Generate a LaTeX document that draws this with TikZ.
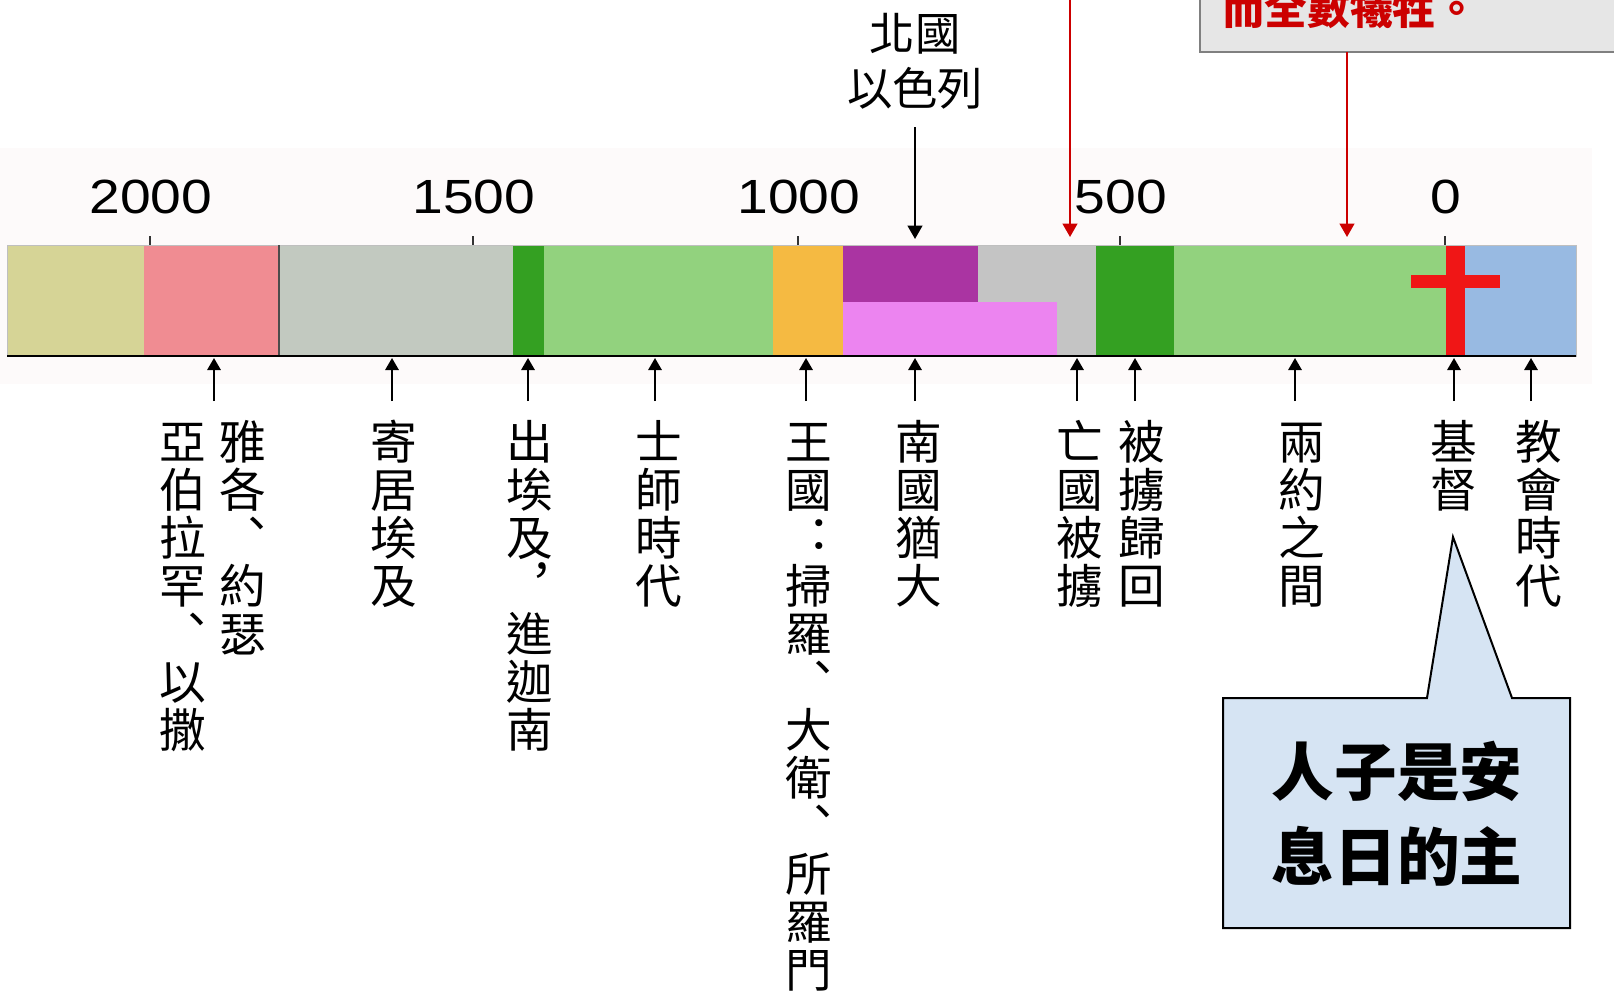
\documentclass[tikz,border=0pt]{standalone}
\usepackage{fontspec}
\usepackage{graphicx}
\usetikzlibrary{arrows.meta}
\newfontfamily\cjk{Noto Sans CJK TC}
\newfontfamily\numfont{Liberation Sans}
\definecolor{cOlive}{RGB}{214,212,150}
\definecolor{cPink}{RGB}{240,140,146}
\definecolor{cGrayA}{RGB}{194,201,192}
\definecolor{cDkGreen}{RGB}{52,160,34}
\definecolor{cLtGreen}{RGB}{146,210,126}
\definecolor{cOrange}{RGB}{245,186,66}
\definecolor{cPurple}{RGB}{170,52,162}
\definecolor{cViolet}{RGB}{236,132,240}
\definecolor{cGrayB}{RGB}{196,196,196}
\definecolor{cRed}{RGB}{240,22,22}
\definecolor{cBlue}{RGB}{152,186,226}
\definecolor{cDarkRed}{RGB}{204,0,0}
\definecolor{cBoxGray}{RGB}{230,230,230}
\definecolor{cBoxEdge}{RGB}{128,128,128}
\definecolor{cCallout}{RGB}{214,228,243}
\definecolor{cBand}{RGB}{253,250,250}
\tikzset{
  vch/.style={font=\cjk\fontsize{35}{40}\selectfont, inner sep=0pt, text height=0.88em, text depth=0.12em, anchor=center},
  yearlab/.style={font=\numfont\fontsize{36}{40}\selectfont, inner sep=0pt, anchor=center},
  tickmark/.style={line width=0.9pt, black!80},
  uparrow/.style={line width=1.5pt, -{Triangle[length=9pt,width=10pt]}},
  downarrow/.style={line width=1.5pt, -{Triangle[length=10pt,width=11pt]}},
  redarrow/.style={line width=1.5pt, cDarkRed, -{Triangle[length=10pt,width=11pt]}},
}
\newcommand\vlabel[4]{%
  \foreach \ch [count=\i] in {#4}{\node[vch] (#1-\i) at (#2,{#3+48*(\i-1)}) {\ch};}}
\begin{document}
\begin{tikzpicture}[x=0.75pt,y=-0.75pt]
\useasboundingbox (0,0) rectangle (1614,996);
\clip (0,0) rectangle (1614,996);
\fill[white] (0,0) rectangle (1614,996);
% faint band behind the bar
\fill[cBand] (0,148) rectangle (1592,384);
% top right box
\fill[cBoxGray] (1200,-10) rectangle (1625,52);
\draw[cBoxEdge, line width=1.5pt] (1625,52) -- (1200,52) -- (1200,-10);
\node[font=\cjk\bfseries\fontsize{32}{36}\selectfont, text=cDarkRed, inner sep=0pt, text height=0.88em, text depth=0.12em, anchor=west] (redtxt) at (1222,19) {而全數犧牲。};
\coordinate (boxbot) at (1347,52);
% bar segments
\fill[cOlive] (7,245) rectangle (144,356);
\fill[cPink] (144,245) rectangle (279,356);
\fill[cGrayA] (279,245) rectangle (513,356);
\fill[cDkGreen] (513,245) rectangle (544,356);
\fill[cLtGreen] (544,245) rectangle (773,356);
\fill[cOrange] (773,245) rectangle (843,356);
\fill[cGrayB] (843,245) rectangle (1096,356);
\fill[cPurple] (843,245) rectangle (978,302);
\fill[cViolet] (843,302) rectangle (1057,356);
\fill[cDkGreen] (1096,245) rectangle (1174,356);
\fill[cLtGreen] (1174,245) rectangle (1446,356);
\fill[cBlue] (1465,245) rectangle (1576,356);
\fill[cRed] (1446,245) rectangle (1465,357);
\fill[cRed] (1411,275) rectangle (1500,288);
\draw[black!25, line width=0.6pt] (7,245) rectangle (1576,356);
\draw[black!70, line width=0.8pt] (279,245) -- (279,356);
\draw[black, line width=1.6pt] (7,356) -- (1576,356);
% ticks and years
\foreach \xx/\yy in {150/2000,473/1500,798/1000,1120/500,1445/0}{
  \draw[tickmark] (\xx,236) -- (\xx,245);
  \node[yearlab] (yr\yy) at (\xx+1,197) {\scalebox{1.15}[1]{\yy}};
}
% north kingdom label and arrow
\node[font=\cjk\fontsize{34}{41}\selectfont, align=center, inner sep=0pt] (nk) at (915,61) {北國\\以色列};
\coordinate (nkTop) at (915,127);
\coordinate (nkTip) at (915,239);
\draw[downarrow] (nkTop) -- (nkTip);
% red arrows
\coordinate (r1s) at (1070,-5);
\coordinate (r1t) at (1070,237);
\coordinate (r2t) at (1347,237);
\draw[redarrow] (r1s) -- (r1t);
\draw[redarrow] (boxbot) -- (r2t);
% up arrows
\foreach \n/\xx in {a/214,b/392,c/528,d/655,e/806,f/915,g/1077,h/1135,i/1295,j/1454,k/1531}{
  \coordinate (ua\n) at (\xx,401);
  \coordinate (ut\n) at (\xx,358);
  \draw[uparrow] (ua\n) -- (ut\n);
}
% vertical labels
\vlabel{La}{243}{454}{雅,各,︑,約,瑟}
\vlabel{Lb}{183}{454}{亞,伯,拉,罕,︑,以,撒}
\vlabel{Lc}{394}{454}{寄,居,埃,及}
\vlabel{Ld}{530}{454}{出,埃,及,︐,進,迦,南}
\vlabel{Le}{659}{454}{士,師,時,代}
\vlabel{Lf}{809}{454}{王,國,︓,掃,羅,︑,大,衛,︑,所,羅,門}
\vlabel{Lg}{919}{454}{南,國,猶,大}
\vlabel{Lh}{1080}{454}{亡,國,被,擄}
\vlabel{Li}{1142}{454}{被,擄,歸,回}
\vlabel{Lj}{1302}{454}{兩,約,之,間}
\vlabel{Lk}{1454}{454}{基,督}
\vlabel{Ll}{1539}{454}{教,會,時,代}
% callout
\coordinate (cTip) at (1453,537);
\draw[fill=cCallout, line width=1.5pt, line join=miter]
  (1223,698) -- (1427,698) -- (cTip) -- (1512,698) -- (1570,698) -- (1570,928) -- (1223,928) -- cycle;
\node[font=\cjk\bfseries\fontsize{47}{63.75}\selectfont, align=center, inner sep=0pt] (callout) at (1397,814) {人子是安\\息日的主};
\end{tikzpicture}
\end{document}
